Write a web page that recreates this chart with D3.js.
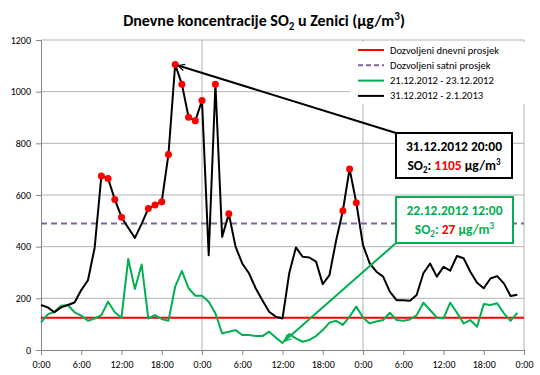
<!DOCTYPE html>
<html>
<head>
<meta charset="utf-8">
<script src="https://cdn.jsdelivr.net/npm/d3@7"></script>
<style>
  body { margin: 0; background: #fff; }
  svg text { font-family: Carlito, Lato, "Open Sans", sans-serif; }
</style>
</head>
<body>
<svg id="chart" width="540" height="375"></svg>
<script>
// hourly SO2 values, 72 hours each
const series2013 = [174, 165, 146, 165, 174, 184, 232, 270, 396, 674, 664, 583,
  514, 473, 434, 488, 548, 561, 574, 757, 1105, 1029, 901, 887,
  966, 367, 1029, 438, 527, 400, 335, 297, 239, 193, 148, 129,
  122, 297, 397, 361, 358, 342, 255, 290, 425, 539, 701, 570,
  406, 335, 303, 284, 226, 193, 193, 191, 213, 297, 335, 284,
  322, 307, 364, 355, 303, 260, 239, 277, 286, 258, 209, 214];
const series2012 = [107, 138, 148, 171, 174, 146, 133, 113, 122, 135, 187, 146,
  125, 352, 236, 331, 122, 135, 120, 113, 245, 306, 239, 210,
  210, 187, 142, 64, 71, 77, 58, 58, 54, 54, 71, 48,
  27, 62, 45, 32, 39, 54, 77, 106, 113, 97, 129, 168,
  126, 103, 110, 116, 144, 116, 113, 118, 135, 183, 155, 126,
  122, 183, 144, 103, 116, 90, 178, 174, 181, 142, 113, 144];
const dailyLimit = 125;
const hourlyLimit = 490;
const tickHours = [0, 6, 12, 18, 24, 30, 36, 42, 48, 54, 60, 66, 72];
const tickLabels = ["0:00", "6:00", "12:00", "18:00", "0:00", "6:00", "12:00",
  "18:00", "0:00", "6:00", "12:00", "18:00", "0:00"];
const yTicks = [0, 200, 400, 600, 800, 1000, 1200];
const legendNames = ["Dozvoljeni dnevni prosjek", "Dozvoljeni satni prosjek",
  "21.12.2012 - 23.12.2012", "31.12.2012 - 2.1.2013"];

const svg = d3.select("#chart");
const plotL = 41, plotR = 524, plotT = 40, plotB = 350;

const x = d3.scaleLinear().domain([0, 72]).range([plotL, plotR]);
const y = d3.scaleLinear().domain([0, 1200]).range([plotB, plotT]);

const grid = "#b3b3b3";

// horizontal grid
svg.append("g")
  .selectAll("line")
  .data(yTicks.filter((d) => d > 0))
  .enter()
  .append("line")
  .attr("x1", plotL)
  .attr("x2", plotR)
  .attr("y1", (d) => y(d))
  .attr("y2", (d) => y(d))
  .attr("stroke", grid);

// vertical grid at midnight
svg.append("g")
  .selectAll("line")
  .data([24, 48, 72])
  .enter()
  .append("line")
  .attr("x1", (d) => x(d))
  .attr("x2", (d) => x(d))
  .attr("y1", plotT)
  .attr("y2", plotB)
  .attr("stroke", grid);

// axes
const yAxis = svg.append("g")
  .attr("transform", `translate(${plotL},0)`)
  .call(d3.axisLeft(y).tickValues(yTicks).tickSize(5).tickPadding(5)
    .tickFormat(d3.format("d")));
const xAxis = svg.append("g")
  .attr("transform", `translate(0,${plotB})`)
  .call(d3.axisBottom(x).tickValues(tickHours).tickSize(5).tickPadding(6)
    .tickFormat((d, i) => tickLabels[i]));
[yAxis, xAxis].forEach((g) => {
  g.select(".domain").attr("stroke", "#868686");
  g.selectAll(".tick line").attr("stroke", "#868686");
  g.selectAll("text").attr("font-size", 10).attr("fill", "#000")
    .style("font-family", "Carlito, Lato, sans-serif");
});

// limit lines
svg.append("line")
  .attr("x1", plotL).attr("x2", plotR)
  .attr("y1", y(dailyLimit)).attr("y2", y(dailyLimit))
  .attr("stroke", "#ff0000").attr("stroke-width", 2);
svg.append("line")
  .attr("x1", plotL).attr("x2", plotR)
  .attr("y1", y(hourlyLimit)).attr("y2", y(hourlyLimit))
  .attr("stroke", "#8064a2").attr("stroke-width", 2)
  .attr("stroke-dasharray", "6,4");

const line = d3.line().x((d, i) => x(i)).y((d) => y(d));

svg.append("path")
  .datum(series2012)
  .attr("d", line)
  .attr("fill", "none")
  .attr("stroke", "#00b050")
  .attr("stroke-width", 2)
  .attr("stroke-linejoin", "round");

svg.append("path")
  .datum(series2013)
  .attr("d", line)
  .attr("fill", "none")
  .attr("stroke", "#000")
  .attr("stroke-width", 2)
  .attr("stroke-linejoin", "round");

// red markers for values above 500
svg.append("g")
  .selectAll("circle")
  .data(series2013.map((v, i) => [i, v]).filter((d) => d[1] > 500))
  .enter()
  .append("circle")
  .attr("cx", (d) => x(d[0]))
  .attr("cy", (d) => y(d[1]))
  .attr("r", 3.5)
  .attr("fill", "#ff0000");

// legend
const legend = svg.append("g");
legend.append("rect")
  .attr("x", 350).attr("y", 42).attr("width", 184).attr("height", 62)
  .attr("fill", "#fff");
const legendStyle = [
  { color: "#ff0000", dash: null },
  { color: "#8064a2", dash: "5,3" },
  { color: "#00b050", dash: null },
  { color: "#000", dash: null }
];
legendNames.forEach((name, i) => {
  const ly = 50 + i * 15.3;
  legend.append("line")
    .attr("x1", 358).attr("x2", 384)
    .attr("y1", ly).attr("y2", ly)
    .attr("stroke", legendStyle[i].color)
    .attr("stroke-width", 2)
    .attr("stroke-dasharray", legendStyle[i].dash);
  legend.append("text")
    .attr("x", 390).attr("y", ly + 3.5)
    .attr("font-size", 10.5)
    .text(name);
});

// arrow markers (open head)
const defs = svg.append("defs");
[["arrBlack", "#000"], ["arrGreen", "#00b050"]].forEach(([id, c]) => {
  defs.append("marker")
    .attr("id", id)
    .attr("viewBox", "0 0 10 10")
    .attr("refX", 9).attr("refY", 5)
    .attr("markerWidth", 4).attr("markerHeight", 4)
    .attr("orient", "auto")
    .append("path")
    .attr("d", "M1,1 L9,5 L1,9")
    .attr("fill", "none")
    .attr("stroke", c)
    .attr("stroke-width", 1.5);
});

function annotation(box, color, tx, ty, marker, dateText, val, unitColor) {
  svg.append("line")
    .attr("x1", box.x).attr("y1", box.ly)
    .attr("x2", tx).attr("y2", ty)
    .attr("stroke", color).attr("stroke-width", 2)
    .attr("marker-end", `url(#${marker})`);
  svg.append("rect")
    .attr("x", box.x).attr("y", box.y)
    .attr("width", box.w).attr("height", box.h)
    .attr("fill", "#fff").attr("stroke", color).attr("stroke-width", 2);
  const cx = box.x + box.w / 2;
  svg.append("text")
    .attr("x", cx).attr("y", box.y + 18)
    .attr("text-anchor", "middle")
    .attr("font-size", 13.5).attr("font-weight", "bold")
    .attr("fill", unitColor)
    .text(dateText);
  const t = svg.append("text")
    .attr("x", cx).attr("y", box.y + 37)
    .attr("text-anchor", "middle")
    .attr("font-size", 13.5).attr("font-weight", "bold")
    .attr("fill", unitColor);
  t.append("tspan").text("SO");
  t.append("tspan").attr("font-size", 9).attr("dy", 3).text("2");
  t.append("tspan").attr("dy", -3).text(": ");
  t.append("tspan").attr("fill", "#ff0000").text(val);
  t.append("tspan").text(" µg/m");
  t.append("tspan").attr("font-size", 9).attr("dy", -5).text("3");
}

annotation({ x: 396, y: 133, w: 116, h: 45, ly: 133 }, "#000",
  x(20) + 3, y(series2013[20]) + 1, "arrBlack", "31.12.2012 20:00", series2013[20], "#000");
annotation({ x: 396, y: 197, w: 117, h: 46, ly: 243 }, "#00b050",
  x(36) + 2, y(series2012[36]) - 2, "arrGreen", "22.12.2012 12:00", series2012[36], "#00b050");

// title
const title = svg.append("text")
  .attr("x", 264).attr("y", 26)
  .attr("text-anchor", "middle")
  .attr("font-size", 16).attr("font-weight", "bold");
title.append("tspan").text("Dnevne koncentracije SO");
title.append("tspan").attr("font-size", 11).attr("dy", 4).text("2");
title.append("tspan").attr("dy", -4).text(" u Zenici (µg/m");
title.append("tspan").attr("font-size", 11).attr("dy", -6).text("3");
title.append("tspan").attr("dy", 6).text(")");
</script>
</body>
</html>
